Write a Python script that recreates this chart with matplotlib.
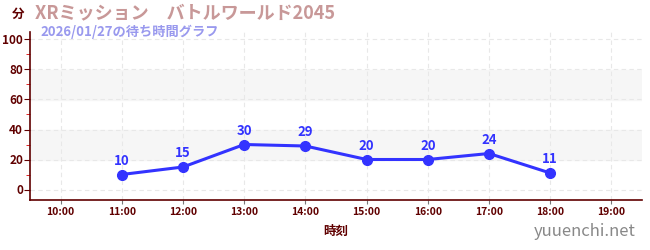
import matplotlib.pyplot as plt
import numpy as np

plt.rcParams['font.family'] = ['Noto Sans CJK JP', 'DejaVu Sans']

hours = [11, 12, 13, 14, 15, 16, 17, 18]
waits = [10, 15, 30, 29, 20, 20, 24, 11]
xticks = [10, 11, 12, 13, 14, 15, 16, 17, 18, 19]
xlabels = ['%d:00' % h for h in xticks]
yticks = [0, 20, 40, 60, 80, 100]

title = 'XRミッション　バトルワールド2045'
subtitle = '2026/01/27の待ち時間グラフ'

axis_col = '#600000'
line_col = '#3333ff'

fig = plt.figure(figsize=(6.5, 2.5), dpi=100)
ax = fig.add_axes([30/650, 50/250, 612/650, 168/250])

ax.set_xlim(9.5, 19.5)
ax.set_ylim(-7, 105)

for lo, hi in [(20, 40), (60, 80)]:
  ax.axhspan(lo, hi, color='#f6f6f6', zorder=0)

ax.set_xticks(xticks)
ax.set_xticklabels(xlabels, fontsize=7.5, color=axis_col, fontweight='bold')
ax.set_yticks(yticks)
ax.set_yticklabels([str(v) for v in yticks], fontsize=8.5, color=axis_col, fontweight='bold')
ax.set_yticks([10, 30, 50, 70, 90], minor=True)
ax.tick_params(axis='y', which='minor', length=3, color='#dd0000')
ax.tick_params(axis='y', which='major', length=4, color=axis_col, pad=1)
ax.tick_params(axis='x', length=3, color='#777777', pad=2)
ax.grid(True, linestyle=(0, (4, 3)), color='#e8e8e8', linewidth=0.8)
ax.set_axisbelow(True)

for s in ['top', 'right']:
  ax.spines[s].set_visible(False)
for s in ['left', 'bottom']:
  ax.spines[s].set_color(axis_col)
  ax.spines[s].set_linewidth(1.2)

ax.plot(hours, waits, color=line_col, linewidth=2.2, marker='o', markersize=7, zorder=3)
for h, w in zip(hours, waits):
  ax.annotate(str(w), (h, w), xytext=(0, 5), textcoords='offset points',
              ha='center', va='bottom', fontsize=9.5, fontweight='bold', color=line_col)

ax.set_xlabel('時刻', fontsize=9, color=axis_col, fontweight='bold', labelpad=6)

fig.text(12/650, 1 - 14/250, '分', fontsize=9, fontweight='bold', color=axis_col, va='center')
fig.text(35/650, 1 - 13/250, title, fontsize=13, fontweight='bold', color='#c89898', va='center')
fig.text(40/650, 1 - 32/250, subtitle, fontsize=9.5, fontweight='bold', color='#9999ee', va='center')
fig.text(636/650, 1 - 232/250, 'yuuenchi.net', fontsize=12, color='#888888', ha='right', va='center')

fig.savefig('out.png', dpi=100)
